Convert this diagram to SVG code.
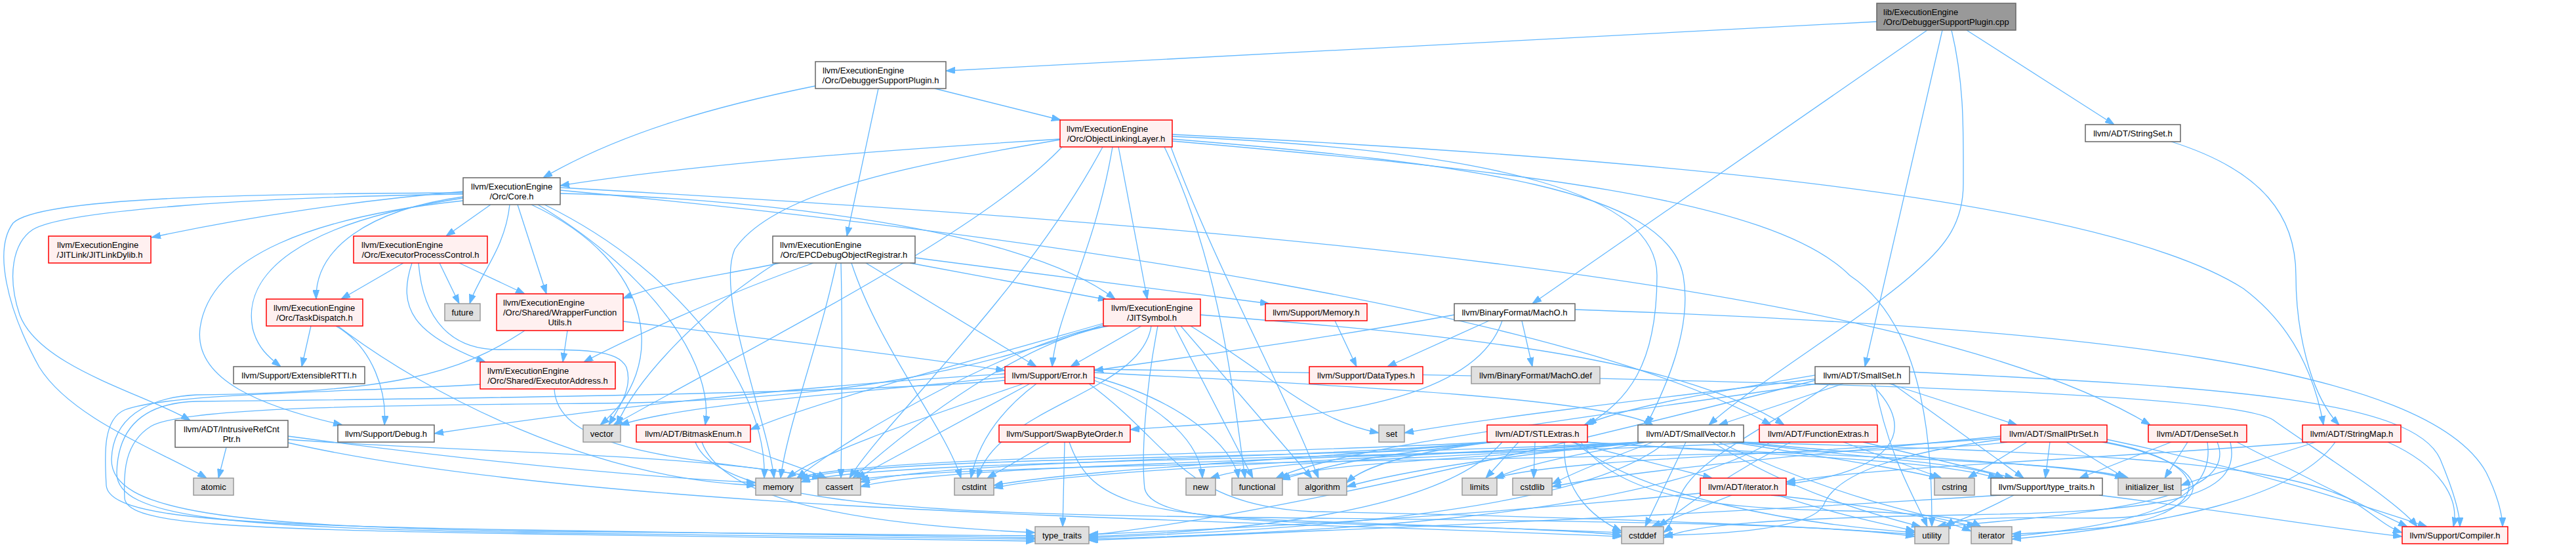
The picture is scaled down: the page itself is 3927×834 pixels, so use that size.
<svg xmlns="http://www.w3.org/2000/svg" width="3927" height="834" viewBox="0 0 3927 834">
<style>
.nd rect{stroke-width:1.5}
.w rect{fill:#ffffff;stroke:#666666}
.r rect{fill:#fff0f0;stroke:#ff0000}
.g rect{fill:#e0e0e0;stroke:#999999}
.root rect{fill:#999999;stroke:#666666}
.nd text{font-family:"Liberation Sans",Arial,Helvetica,sans-serif;font-size:13px;fill:#000000}
.nd text.m{text-anchor:middle}
#edges path{fill:none;stroke:#63b8ff;stroke-width:1.3;marker-end:url(#arr)}
</style>
<defs>
<marker id="arr" markerUnits="userSpaceOnUse" markerWidth="14" markerHeight="10" refX="14" refY="5" orient="auto" viewBox="0 0 14 10">
<path d="M0,0 L14,5 L0,10 z" fill="#63b8ff" stroke="#63b8ff" stroke-width="1"/>
</marker>
</defs>
<rect x="0" y="0" width="3927" height="834" fill="#ffffff"/>
<g id="edges">
<path d="M2861,33 C2300,62 1850,88 1442,108"/>
<path d="M2938,46 L2336,463"/>
<path d="M2961,46 L2843,559"/>
<path d="M2975,46 C2995,130 2993,200 2993,280 C2993,340 2965,375 2925,410 C2850,480 2680,580 2605,648"/>
<path d="M2998,46 L3223,190"/>
<path d="M1243,131 C1100,160 950,200 828,271"/>
<path d="M1425,135 L1617,183"/>
<path d="M1339,135 L1291,360"/>
<path d="M1616,212 C1300,232 1050,252 854,283"/>
<path d="M1705,224 L1749,456"/>
<path d="M1696,224 C1670,380 1610,480 1604,559"/>
<path d="M1787,208 C2300,230 2526,300 2526,420 C2526,560 2480,610 2420,648"/>
<path d="M1787,212 C2250,250 2540,290 2566,420 C2580,500 2540,590 2510,648"/>
<path d="M1787,205 C2500,240 3200,300 3420,440 C3500,500 3530,580 3542,648"/>
<path d="M1619,224 C1500,350 1200,500 935,648"/>
<path d="M1681,224 C1560,450 1350,640 1295,729"/>
<path d="M1616,213 C1400,250 1180,290 1120,380 C1090,450 1170,640 1180,729"/>
<path d="M1785,224 C1850,400 1960,600 2010,729"/>
<path d="M1775,224 C1860,400 1880,600 1898,729"/>
<path d="M1787,215 C2300,260 2700,300 2820,420 C2940,500 2945,700 2945,803"/>
<path d="M706,292 C550,305 380,330 231,362"/>
<path d="M748,312 L680,360"/>
<path d="M706,300 C560,320 480,380 482,456"/>
<path d="M777,312 C770,380 730,420 716,463"/>
<path d="M789,312 L833,448"/>
<path d="M706,302 C450,340 370,420 385,500 C392,530 410,545 428,559"/>
<path d="M706,296 C400,300 100,320 50,350 C20,370 10,420 30,480 C60,560 220,600 290,641"/>
<path d="M706,294 C400,295 60,300 20,340 C-10,380 10,470 60,560 C110,640 250,690 315,729"/>
<path d="M706,306 C480,330 320,390 305,500 C295,580 400,620 522,648"/>
<path d="M810,312 C1000,400 1020,560 915,648"/>
<path d="M820,312 C1000,420 1090,560 1075,648"/>
<path d="M854,295 C1100,300 1550,340 1700,456"/>
<path d="M854,290 C1600,360 2400,480 2700,648"/>
<path d="M854,286 C1800,340 2900,420 3278,648"/>
<path d="M830,312 C1050,420 1170,600 1165,729"/>
<path d="M1189,401 C1100,420 1010,430 950,455"/>
<path d="M1240,401 C1100,450 950,520 890,552"/>
<path d="M1387,401 L1688,457"/>
<path d="M1320,401 L1580,559"/>
<path d="M1395,393 L1935,463"/>
<path d="M1298,401 C1340,530 1440,650 1465,729"/>
<path d="M1275,401 C1250,520 1200,650 1190,729"/>
<path d="M1183,401 C1060,480 970,580 940,648"/>
<path d="M1282,401 C1285,520 1283,650 1282,729"/>
<path d="M615,401 L520,456"/>
<path d="M670,401 L700,463"/>
<path d="M700,401 L800,448"/>
<path d="M628,401 C605,470 630,510 740,552"/>
<path d="M638,401 C645,490 690,533 760,533 C880,533 940,530 955,560 C965,590 945,620 928,648"/>
<path d="M474,497 L460,559"/>
<path d="M512,497 C570,530 590,600 586,648"/>
<path d="M515,497 C650,600 900,730 1152,740"/>
<path d="M865,504 L858,552"/>
<path d="M950,490 C1200,520 1400,545 1532,565"/>
<path d="M800,504 C700,570 600,598 300,602 C220,606 172,640 170,700 C168,780 350,802 800,810 C1200,816 1450,817 1578,817"/>
<path d="M845,593 C850,700 1100,700 1252,729"/>
<path d="M732,586 C550,598 260,598 190,625 C155,640 160,700 162,740 C166,790 350,800 800,808 C1200,814 1450,816 1578,820"/>
<path d="M1682,493 C1450,560 1250,610 1144,655"/>
<path d="M1740,497 L1632,559"/>
<path d="M1755,497 C1740,600 1520,620 1490,729"/>
<path d="M1765,497 C1745,600 1740,700 1745,745 C1755,790 1900,795 2100,800 C2300,805 2420,810 2472,812"/>
<path d="M1790,497 L1910,729"/>
<path d="M1800,497 L2000,729"/>
<path d="M1815,497 C1950,580 2000,640 2102,660"/>
<path d="M1830,480 C2200,510 2550,540 2720,648"/>
<path d="M1690,497 C1560,520 1400,640 1300,729"/>
<path d="M1686,497 C1550,520 1300,660 1215,729"/>
<path d="M1682,495 C1500,560 1300,612 900,615 C600,618 280,620 230,650 C190,675 188,720 190,760 C195,800 350,806 800,814 C1200,820 1450,822 1578,825"/>
<path d="M2035,489 L2068,559"/>
<path d="M2217,480 C2000,520 1800,545 1668,565"/>
<path d="M2270,489 L2115,559"/>
<path d="M2290,489 C2240,640 1900,640 1723,655"/>
<path d="M2320,489 L2336,559"/>
<path d="M2401,472 C3200,500 3700,560 3790,720 C3810,760 3815,790 3815,803"/>
<path d="M1532,570 C1200,590 900,625 662,661"/>
<path d="M1532,575 C1300,600 1050,615 945,648"/>
<path d="M1560,585 C1400,640 1250,690 1200,729"/>
<path d="M1570,585 L1305,729"/>
<path d="M1580,585 C1520,630 1490,680 1480,729"/>
<path d="M1668,580 C1780,620 1830,680 1833,729"/>
<path d="M1668,575 C1800,610 1880,680 1888,729"/>
<path d="M1668,568 C2100,590 2450,610 2520,648"/>
<path d="M1668,563 C2800,580 3400,600 3465,640 C3520,680 3650,760 3685,803"/>
<path d="M1532,580 C1300,600 700,608 300,612 C220,614 180,650 178,720 C176,790 350,804 800,812 C1200,818 1450,819 1578,822"/>
<path d="M1660,585 C1790,680 1800,770 2000,780 C2500,790 2800,805 2919,815"/>
<path d="M1600,674 L1505,729"/>
<path d="M1623,674 L1620,803"/>
<path d="M1630,674 C1660,760 1720,785 2000,795 C2300,805 2420,810 2472,816"/>
<path d="M1110,674 C1180,700 1230,715 1260,729"/>
<path d="M1070,674 C1100,760 1300,800 1578,812"/>
<path d="M1060,674 C1100,780 1500,785 2000,790 C2500,795 2800,800 2919,818"/>
<path d="M345,682 L333,729"/>
<path d="M439,670 C700,690 1050,690 1252,729"/>
<path d="M439,675 C900,780 1800,790 2472,818"/>
<path d="M439,665 C700,700 950,725 1152,736"/>
<path d="M2880,585 L3075,648"/>
<path d="M2810,585 L2620,648"/>
<path d="M2767,572 C2600,600 2480,620 2415,648"/>
<path d="M2767,578 C2500,610 2250,640 2141,660"/>
<path d="M2852,585 C2930,660 2880,720 2723,738"/>
<path d="M2885,585 L3085,729"/>
<path d="M2911,567 C3400,590 3680,610 3720,700 C3745,760 3750,790 3750,803"/>
<path d="M2790,585 C2700,650 2580,700 2560,760 C2550,790 2545,805 2536,812"/>
<path d="M2770,585 C2400,640 2050,680 1945,729"/>
<path d="M2858,585 C2880,700 2920,760 2938,803"/>
<path d="M2767,580 C2300,700 1900,790 1660,816"/>
<path d="M2395,674 L2610,729"/>
<path d="M2315,674 L2265,729"/>
<path d="M2340,674 L2338,729"/>
<path d="M2275,674 C2000,700 1450,700 1312,735"/>
<path d="M2280,674 C2000,700 1650,715 1515,740"/>
<path d="M2270,674 C1900,695 1320,695 1215,729"/>
<path d="M2275,674 C2150,690 2080,710 2053,736"/>
<path d="M2272,674 C2100,695 2060,700 1953,731"/>
<path d="M2385,674 C2380,750 2430,790 2472,810"/>
<path d="M2400,674 C2500,760 2750,800 2919,812"/>
<path d="M2410,674 C2480,780 2700,775 2850,780 C2950,785 2995,790 3020,803"/>
<path d="M2290,674 C2200,780 1900,810 1660,818"/>
<path d="M2415,674 C2800,700 3150,700 3245,729"/>
<path d="M2418,674 C2700,695 2950,700 3045,729"/>
<path d="M2655,674 C3150,690 3450,700 3580,760 C3620,785 3640,805 3662,812"/>
<path d="M2650,674 C2850,700 3000,705 3055,729"/>
<path d="M2500,674 C2300,695 2150,715 2053,742"/>
<path d="M2500,674 C2200,700 1450,705 1312,742"/>
<path d="M2570,674 L2508,803"/>
<path d="M2505,674 C2100,700 1650,715 1515,744"/>
<path d="M2520,674 C2450,700 2400,720 2366,738"/>
<path d="M2640,674 C2800,700 2900,715 2955,729"/>
<path d="M2505,674 C2300,700 2050,700 1950,729"/>
<path d="M2655,674 C2900,700 3150,705 3238,729"/>
<path d="M2620,674 C2800,760 2950,790 3012,803"/>
<path d="M2510,674 C2420,690 2330,705 2280,729"/>
<path d="M2500,674 C2000,700 1320,695 1219,731"/>
<path d="M2505,674 C2200,705 1950,695 1845,729"/>
<path d="M2540,674 C2400,790 1900,810 1660,820"/>
<path d="M2610,674 C2750,760 2880,790 2928,803"/>
<path d="M2840,674 L3070,729"/>
<path d="M2810,674 L2960,729"/>
<path d="M2690,674 C2200,700 1330,698 1221,735"/>
<path d="M2700,674 C2500,790 2000,812 1660,822"/>
<path d="M2730,674 C2620,730 2560,780 2528,803"/>
<path d="M2640,755 L2518,803"/>
<path d="M2700,755 C2850,770 2960,790 3005,810"/>
<path d="M2592,752 C2200,790 1900,805 1660,815"/>
<path d="M2710,755 C2800,785 2880,800 2919,810"/>
<path d="M3212,670 C3450,720 3600,770 3700,803"/>
<path d="M3125,674 L3118,729"/>
<path d="M3060,674 C2900,700 1500,700 1310,731"/>
<path d="M3050,670 C2900,690 2800,720 2780,770 C2760,810 2600,815 2536,816"/>
<path d="M3050,665 C2800,690 2500,715 2366,742"/>
<path d="M3090,674 L3000,729"/>
<path d="M3150,674 L3240,729"/>
<path d="M3210,674 C3400,710 3360,790 3200,805 C3120,812 3090,814 3067,814"/>
<path d="M3050,668 C2700,695 2380,700 2278,729"/>
<path d="M3205,674 C3400,710 3380,790 3200,790 C3080,790 2990,785 2966,803"/>
<path d="M3310,674 L3170,729"/>
<path d="M3335,674 L3300,729"/>
<path d="M3400,674 C3420,760 3300,780 3000,785 C2700,790 2580,800 2536,820"/>
<path d="M3365,674 C3380,770 3250,800 3067,818"/>
<path d="M3380,674 C3420,770 3150,785 2960,803"/>
<path d="M3410,674 C3500,720 3600,770 3670,803"/>
<path d="M3520,674 C3200,700 2850,712 2723,735"/>
<path d="M3530,674 C3450,700 3380,720 3325,740"/>
<path d="M3560,674 C3500,760 3300,800 3067,822"/>
<path d="M3640,674 C3720,710 3750,760 3740,803"/>
<path d="M3200,755 C3400,780 3550,805 3662,818"/>
<path d="M3050,755 C2500,790 2000,810 1660,824"/>
<path d="M3070,755 C3020,780 2990,795 2953,803"/>
<path d="M3310,216 C3450,260 3500,330 3500,420 C3500,500 3520,600 3566,648"/>
</g>
<g id="n_cpp" class="nd root"><rect x="2861" y="5" width="212" height="41"/><text x="2871" y="23">lib/ExecutionEngine</text><text class="m" x="2967" y="38">/Orc/DebuggerSupportPlugin.cpp</text></g>
<g id="n_dsp" class="nd w"><rect x="1243" y="94" width="199" height="41"/><text x="1254" y="112">llvm/ExecutionEngine</text><text class="m" x="1342.5" y="127">/Orc/DebuggerSupportPlugin.h</text></g>
<g id="n_oll" class="nd r"><rect x="1616" y="183" width="171" height="41"/><text x="1626" y="201">llvm/ExecutionEngine</text><text class="m" x="1701.5" y="216">/Orc/ObjectLinkingLayer.h</text></g>
<g id="n_strset" class="nd w"><rect x="3179" y="190" width="145" height="26"/><text class="m" x="3251.5" y="207.5">llvm/ADT/StringSet.h</text></g>
<g id="n_core" class="nd w"><rect x="706" y="271" width="148" height="41"/><text x="718" y="289">llvm/ExecutionEngine</text><text class="m" x="780" y="304">/Orc/Core.h</text></g>
<g id="n_epc" class="nd w"><rect x="1178" y="360" width="217" height="41"/><text x="1189" y="378">llvm/ExecutionEngine</text><text class="m" x="1286.5" y="393">/Orc/EPCDebugObjectRegistrar.h</text></g>
<g id="n_jld" class="nd r"><rect x="74" y="360" width="156" height="41"/><text x="87" y="378">llvm/ExecutionEngine</text><text class="m" x="152" y="393">/JITLink/JITLinkDylib.h</text></g>
<g id="n_epctl" class="nd r"><rect x="539" y="360" width="204" height="41"/><text x="551" y="378">llvm/ExecutionEngine</text><text class="m" x="641" y="393">/Orc/ExecutorProcessControl.h</text></g>
<g id="n_task" class="nd r"><rect x="406" y="456" width="147" height="41"/><text x="417" y="474">llvm/ExecutionEngine</text><text class="m" x="479.5" y="489">/Orc/TaskDispatch.h</text></g>
<g id="n_future" class="nd g"><rect x="678" y="463" width="54" height="26"/><text class="m" x="705" y="480.5">future</text></g>
<g id="n_wfu" class="nd r"><rect x="757" y="448" width="193" height="56"/><text x="767" y="466">llvm/ExecutionEngine</text><text x="767" y="481">/Orc/Shared/WrapperFunction</text><text class="m" x="853.5" y="496">Utils.h</text></g>
<g id="n_jitsym" class="nd r"><rect x="1682" y="456" width="148" height="41"/><text x="1694" y="474">llvm/ExecutionEngine</text><text class="m" x="1756" y="489">/JITSymbol.h</text></g>
<g id="n_memh" class="nd r"><rect x="1929" y="463" width="155" height="26"/><text class="m" x="2006.5" y="480.5">llvm/Support/Memory.h</text></g>
<g id="n_macho" class="nd w"><rect x="2217" y="463" width="184" height="26"/><text class="m" x="2309" y="480.5">llvm/BinaryFormat/MachO.h</text></g>
<g id="n_rtti" class="nd w"><rect x="356" y="559" width="200" height="26"/><text class="m" x="456" y="576.5">llvm/Support/ExtensibleRTTI.h</text></g>
<g id="n_exaddr" class="nd r"><rect x="732" y="552" width="206" height="41"/><text x="743" y="570">llvm/ExecutionEngine</text><text class="m" x="835" y="585">/Orc/Shared/ExecutorAddress.h</text></g>
<g id="n_error" class="nd r"><rect x="1532" y="559" width="136" height="26"/><text class="m" x="1600" y="576.5">llvm/Support/Error.h</text></g>
<g id="n_dtypes" class="nd r"><rect x="1996" y="559" width="173" height="26"/><text class="m" x="2082.5" y="576.5">llvm/Support/DataTypes.h</text></g>
<g id="n_mdef" class="nd g"><rect x="2243" y="559" width="196" height="26"/><text class="m" x="2341" y="576.5">llvm/BinaryFormat/MachO.def</text></g>
<g id="n_sset" class="nd w"><rect x="2767" y="559" width="144" height="26"/><text class="m" x="2839" y="576.5">llvm/ADT/SmallSet.h</text></g>
<g id="n_irc" class="nd w"><rect x="267" y="641" width="172" height="41"/><text x="280" y="659">llvm/ADT/IntrusiveRefCnt</text><text class="m" x="353" y="674">Ptr.h</text></g>
<g id="n_debug" class="nd w"><rect x="515" y="648" width="147" height="26"/><text class="m" x="588.5" y="665.5">llvm/Support/Debug.h</text></g>
<g id="n_vector" class="nd g"><rect x="889" y="648" width="57" height="26"/><text class="m" x="917.5" y="665.5">vector</text></g>
<g id="n_bitmask" class="nd r"><rect x="970" y="648" width="174" height="26"/><text class="m" x="1057" y="665.5">llvm/ADT/BitmaskEnum.h</text></g>
<g id="n_swap" class="nd r"><rect x="1523" y="648" width="200" height="26"/><text class="m" x="1623" y="665.5">llvm/Support/SwapByteOrder.h</text></g>
<g id="n_set" class="nd g"><rect x="2102" y="648" width="39" height="26"/><text class="m" x="2121.5" y="665.5">set</text></g>
<g id="n_stl" class="nd r"><rect x="2267" y="648" width="153" height="26"/><text class="m" x="2343.5" y="665.5">llvm/ADT/STLExtras.h</text></g>
<g id="n_svec" class="nd w"><rect x="2497" y="648" width="161" height="26"/><text class="m" x="2577.5" y="665.5">llvm/ADT/SmallVector.h</text></g>
<g id="n_fext" class="nd r"><rect x="2682" y="648" width="180" height="26"/><text class="m" x="2772" y="665.5">llvm/ADT/FunctionExtras.h</text></g>
<g id="n_sptr" class="nd r"><rect x="3050" y="648" width="162" height="26"/><text class="m" x="3131" y="665.5">llvm/ADT/SmallPtrSet.h</text></g>
<g id="n_dset" class="nd r"><rect x="3275" y="648" width="150" height="26"/><text class="m" x="3350" y="665.5">llvm/ADT/DenseSet.h</text></g>
<g id="n_smap" class="nd r"><rect x="3510" y="648" width="150" height="26"/><text class="m" x="3585" y="665.5">llvm/ADT/StringMap.h</text></g>
<g id="n_atomic" class="nd g"><rect x="295" y="729" width="61" height="26"/><text class="m" x="325.5" y="746.5">atomic</text></g>
<g id="n_memory" class="nd g"><rect x="1152" y="729" width="69" height="26"/><text class="m" x="1186.5" y="746.5">memory</text></g>
<g id="n_cassert" class="nd g"><rect x="1247" y="729" width="65" height="26"/><text class="m" x="1279.5" y="746.5">cassert</text></g>
<g id="n_cstdint" class="nd g"><rect x="1455" y="729" width="60" height="26"/><text class="m" x="1485" y="746.5">cstdint</text></g>
<g id="n_new" class="nd g"><rect x="1808" y="729" width="45" height="26"/><text class="m" x="1830.5" y="746.5">new</text></g>
<g id="n_functional" class="nd g"><rect x="1878" y="729" width="77" height="26"/><text class="m" x="1916.5" y="746.5">functional</text></g>
<g id="n_algorithm" class="nd g"><rect x="1979" y="729" width="74" height="26"/><text class="m" x="2016" y="746.5">algorithm</text></g>
<g id="n_limits" class="nd g"><rect x="2229" y="729" width="53" height="26"/><text class="m" x="2255.5" y="746.5">limits</text></g>
<g id="n_cstdlib" class="nd g"><rect x="2306" y="729" width="60" height="26"/><text class="m" x="2336" y="746.5">cstdlib</text></g>
<g id="n_iterh" class="nd r"><rect x="2592" y="729" width="131" height="26"/><text class="m" x="2657.5" y="746.5">llvm/ADT/iterator.h</text></g>
<g id="n_cstring" class="nd g"><rect x="2949" y="729" width="61" height="26"/><text class="m" x="2979.5" y="746.5">cstring</text></g>
<g id="n_tt" class="nd w"><rect x="3035" y="729" width="170" height="26"/><text class="m" x="3120" y="746.5">llvm/Support/type_traits.h</text></g>
<g id="n_initl" class="nd g"><rect x="3229" y="729" width="96" height="26"/><text class="m" x="3277" y="746.5">initializer_list</text></g>
<g id="n_type_traits" class="nd g"><rect x="1578" y="803" width="82" height="26"/><text class="m" x="1619" y="820.5">type_traits</text></g>
<g id="n_cstddef" class="nd g"><rect x="2472" y="803" width="64" height="26"/><text class="m" x="2504" y="820.5">cstddef</text></g>
<g id="n_utility" class="nd g"><rect x="2919" y="803" width="52" height="26"/><text class="m" x="2945" y="820.5">utility</text></g>
<g id="n_iterator" class="nd g"><rect x="3005" y="803" width="62" height="26"/><text class="m" x="3036" y="820.5">iterator</text></g>
<g id="n_compiler" class="nd r"><rect x="3662" y="803" width="161" height="26"/><text class="m" x="3742.5" y="820.5">llvm/Support/Compiler.h</text></g>
</svg>
